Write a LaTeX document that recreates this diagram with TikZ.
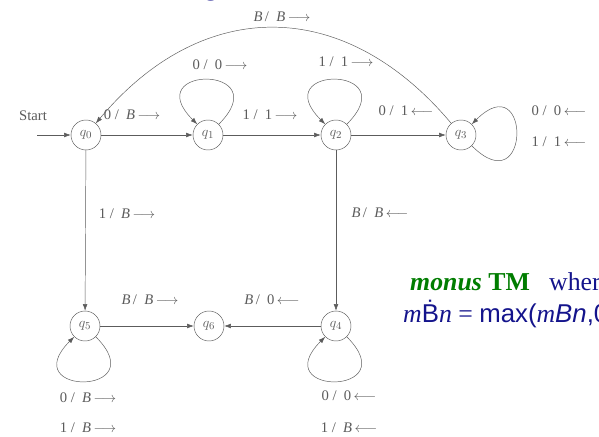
\documentclass[tikz,border=0pt]{standalone}
\usepackage{fontspec}
\setmainfont{Liberation Serif}
\setsansfont{Liberation Sans}
\usetikzlibrary{arrows.meta}

\definecolor{ink}{gray}{0.36}
\definecolor{tmgreen}{RGB}{0,125,0}
\definecolor{tmblue}{RGB}{20,20,140}

\newcommand{\rgo}{\,$\longrightarrow$}
\newcommand{\lgo}{\,$\longleftarrow$}

\tikzset{
  state/.style={circle, draw=ink, thin, minimum size=9mm, inner sep=0pt,
    text=ink, font=\fontsize{13}{15}\selectfont},
  lbl/.style={text=ink, font=\fontsize{12.5}{14}\selectfont, inner sep=1pt},
  trans/.style={draw=ink, thin, -{Latex[length=2mm,width=1.4mm]}},
  big/.style={font=\fontsize{22}{25}\selectfont, inner sep=0pt, anchor=west}
}

\begin{document}
\begin{tikzpicture}[x=0.3mm, y=0.3mm]
    \clip (0,0) rectangle (599,436);
    \fill[white] (0,0) rectangle (599,436);

    % states
    \node[state] (q0) at (86,301) {$q_0$};
    \node[state] (q1) at (208,301) {$q_1$};
    \node[state] (q2) at (336,301) {$q_2$};
    \node[state] (q3) at (461,301) {$q_3$};
    \node[state] (q5) at (85,110) {$q_5$};
    \node[state] (q6) at (209,110) {$q_6$};
    \node[state] (q4) at (336,110) {$q_4$};

    \node[lbl] (start) at (33,320) {Start};
    \coordinate (in) at (37,301);
    \draw[trans] (in) -- (q0);

    % moves
    \draw[trans] (q0) -- (q1);
    \draw[trans] (q1) -- (q2);
    \draw[trans] (q2) -- (q3);
    \draw[trans] (q0) -- (q5);
    \draw[trans] (q2) -- (q4);
    \draw[trans] (q5) -- (q6);
    \draw[trans] (q4) -- (q6);
    \draw[trans] (q3) to[out=130, in=50, looseness=1.2] (q0);

    % loops
    \draw[trans] (q1) to[out=45, in=135, looseness=10] (q1);
    \draw[trans] (q2) to[out=45, in=135, looseness=10] (q2);
    \draw[trans] (q3) to[out=-45, in=45, looseness=10] (q3);
    \draw[trans] (q5) to[out=-45, in=225, looseness=10] (q5);
    \draw[trans] (q4) to[out=-45, in=225, looseness=10] (q4);

    % move labels
    \node[lbl] (l30) at (282,419) {\textit{B}\,/\ \ \textit{B}\rgo};
    \node[lbl] (l11) at (220,371) {0\ /\ \ 0\rgo};
    \node[lbl] (l22) at (346,374) {1\ /\ \ 1\rgo};
    \node[lbl] (l01) at (132,321) {0\ /\ \ \textit{B}\rgo};
    \node[lbl] (l12) at (270,321) {1\ /\ \ 1\rgo};
    \node[lbl] (l23) at (406,325) {0\ /\ \ 1\lgo};
    \node[lbl] (l33a) at (559,325) {0\ /\ \ 0\lgo};
    \node[lbl] (l33b) at (559,294) {1\ /\ \ 1\lgo};
    \node[lbl] (l05) at (127,222) {1\ /\ \ \textit{B}\rgo};
    \node[lbl] (l24) at (380,223) {\textit{B}\,/\ \ \textit{B}\lgo};
    \node[lbl] (l56) at (150,136) {\textit{B}\,/\ \ \textit{B}\rgo};
    \node[lbl] (l46) at (272,136) {\textit{B}\,/\ \ 0\lgo};
    \node[lbl] (l55a) at (88,38) {0\ /\ \ \textit{B}\rgo};
    \node[lbl] (l55b) at (88,8) {1\ /\ \ \textit{B}\rgo};
    \node[lbl] (l44a) at (349,40) {0\ /\ \ 0\lgo};
    \node[lbl] (l44b) at (349,8) {1\ /\ \ \textit{B}\lgo};

    % side note
    \node[big, anchor=base, text=tmblue] (frag) at (211,440) {g};
    \node[big, text=tmgreen] (name) at (410,154)
      {\textbf{\textit{monus}} \textbf{TM}\hspace{0.5em} \textcolor{tmblue}{where}};
    \node[big, text=tmblue] (defn) at (403,122)
      {\textit{m}\textsf{\.B}\textit{n} = \textsf{max(}\textit{m}\textsf{\itshape Bn}\textsf{,0)}};
\end{tikzpicture}
\end{document}
